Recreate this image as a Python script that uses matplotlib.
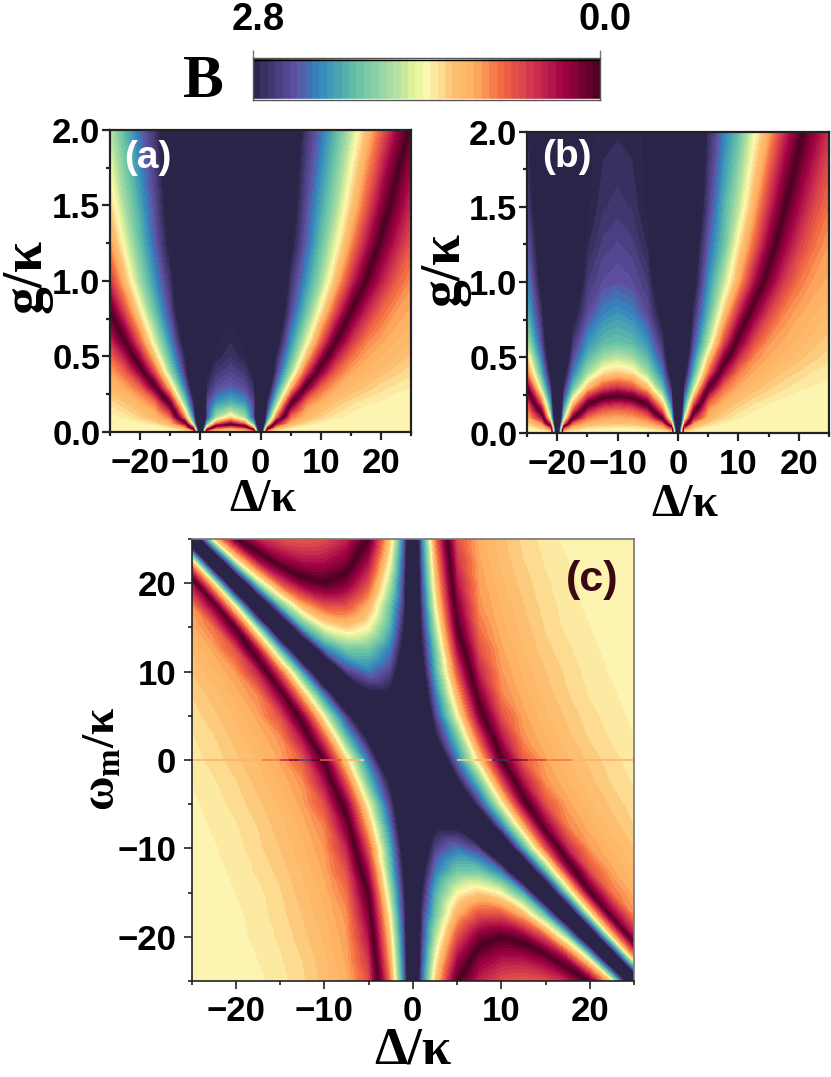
"""Three contour maps of B with a shared colour strip on top."""
import matplotlib
matplotlib.use('Agg')

from matplotlib import pyplot as plt  # noqa
from matplotlib.colors import LinearSegmentedColormap  # noqa
from matplotlib.ticker import MultipleLocator  # noqa
from matplotlib.tri import Triangulation  # noqa
import numpy as np  # noqa

W, H = 831, 1077

# values. B is the size of each number, the sign only
# says on which side of the dark ridge a node lies, so that the contour
# routine can find the ridge between two nodes.
delta_a = [-25, -22.5, -20, -17.5, -15, -12.5, -11, -10, -9, -7.5, -5, -2.5, -1,
           0, 1, 2.5, 5, 7.5, 10, 12.5, 15, 17.5, 20, 22.5, 25]
delta_b = [-25, -22.5, -21, -20, -19, -17.5, -15, -12.5, -10, -7.5, -5, -2.5, -1,
           0, 1, 2.5, 5, 7.5, 10, 12.5, 15, 17.5, 20, 22.5, 25]
g_values = [0, .03, .06, .1, .15, .2, .3, .4, .5, .6, .8, 1, 1.25, 1.5, 2]

field_a = [
    [-1.5, -1.5, -1.5, -1.5, -1.5, -1.5, -1.5, 4, -1.5, -1.5, -1.5, -1.5, -1.5, 4, -1.5, -1.5, -1.5, -1.5, -1.5, -1.5, -1.5, -1.5, -1.5, -1.5, -1.5],
    [-1.5, -1.5, -1.5, -1.45, -1.32, -1.02, .47, 4, .9, -.6, -.92, -.6, .9, 4, .47, -1.02, -1.32, -1.45, -1.5, -1.5, -1.5, -1.5, -1.5, -1.5, -1.5],
    [-1.5, -1.45, -1.38, -1.28, -1.08, -.25, 1.76, 4, 2.0, .8, .18, .8, 2.0, 4, 1.76, -.25, -1.08, -1.28, -1.38, -1.45, -1.5, -1.5, -1.5, -1.5, -1.5],
    [-1.4, -1.35, -1.25, -1.1, -.82, .83, 2.3, 4, 2.5, 1.7, 1.2, 1.7, 2.5, 4, 2.3, .83, -.82, -1.1, -1.25, -1.35, -1.4, -1.46, -1.5, -1.5, -1.5],
    [-1.35, -1.27, -1.15, -1.0, -.4, 1.35, 2.6, 4, 2.5, 1.95, 1.7, 1.95, 2.5, 4, 2.6, 1.35, -.4, -1.0, -1.15, -1.27, -1.35, -1.4, -1.45, -1.5, -1.5],
    [-1.28, -1.19, -1.05, -.82, .1, 1.8, 2.75, 4, 2.55, 2.2, 2.05, 2.2, 2.55, 4, 2.75, 1.8, .1, -.82, -1.05, -1.19, -1.28, -1.35, -1.38, -1.44, -1.47],
    [-1.12, -1.0, -.76, -.08, 1.1, 2.3, 3.1, 4, 2.72, 2.5, 2.4, 2.5, 2.72, 4, 3.1, 2.3, 1.1, -.08, -.76, -1.0, -1.12, -1.2, -1.28, -1.33, -1.36],
    [-1.0, -.76, -.22, .65, 1.7, 2.6, 3.4, 4, 2.85, 2.65, 2.55, 2.65, 2.85, 4, 3.4, 2.6, 1.7, .65, -.22, -.76, -1.0, -1.08, -1.16, -1.23, -1.29],
    [-.82, -.4, .28, 1.15, 2.0, 2.75, 3.5, 4, 3.0, 2.78, 2.68, 2.78, 3.0, 4, 3.5, 2.75, 2.0, 1.15, .28, -.4, -.82, -1.0, -1.07, -1.14, -1.21],
    [-.54, -.03, .72, 1.5, 2.2, 2.95, 3.6, 4, 3.4, 2.82, 2.74, 2.82, 3.4, 4, 3.6, 2.95, 2.2, 1.5, .72, -.03, -.54, -.87, -1.0, -1.07, -1.14],
    [-.02, .62, 1.3, 1.95, 2.5, 3.2, 3.7, 4, 3.8, 3.1, 2.83, 3.1, 3.8, 4, 3.7, 3.2, 2.5, 1.95, 1.3, .62, -.02, -.46, -.78, -.96, -1.03],
    [.5, 1.1, 1.7, 2.2, 2.65, 3.3, 3.8, 4, 3.8, 3.6, 3.5, 3.6, 3.8, 4, 3.8, 3.3, 2.65, 2.2, 1.7, 1.1, .5, -.03, -.43, -.74, -.93],
    [.92, 1.45, 1.95, 2.4, 2.85, 3.5, 3.85, 4, 3.85, 3.7, 3.6, 3.7, 3.85, 4, 3.85, 3.5, 2.85, 2.4, 1.95, 1.45, .92, .4, -.08, -.43, -.72],
    [1.2, 1.7, 2.1, 2.5, 2.95, 3.6, 3.9, 4, 3.9, 3.75, 3.7, 3.75, 3.9, 4, 3.9, 3.6, 2.95, 2.5, 2.1, 1.7, 1.2, .72, .22, -.18, -.5],
    [1.6, 2.0, 2.35, 2.65, 3.1, 3.7, 3.9, 4, 3.95, 3.8, 3.8, 3.8, 3.95, 4, 3.9, 3.7, 3.1, 2.65, 2.35, 2.0, 1.6, 1.15, .74, .3, -.08],
]

field_b = [
    [-1.5, -1.5, -1.5, 4, -1.5, -1.5, -1.5, -1.5, -1.5, -1.5, -1.5, -1.5, -1.5, 4, -1.5, -1.5, -1.5, -1.5, -1.5, -1.5, -1.5, -1.5, -1.5, -1.5, -1.5],
    [-1.44, -1.23, -.74, 4, -.6, -1.14, -1.32, -1.36, -1.38, -1.36, -1.32, -1.14, -.6, 4, -.74, -1.23, -1.44, -1.5, -1.5, -1.5, -1.5, -1.5, -1.5, -1.5, -1.5],
    [-1.26, -.97, .55, 4, .8, -.78, -1.08, -1.18, -1.2, -1.18, -1.08, -.78, .8, 4, .55, -.97, -1.26, -1.38, -1.47, -1.5, -1.5, -1.5, -1.5, -1.5, -1.5],
    [-1.08, -.38, 1.5, 4, 1.7, .05, -.82, -.98, -1.0, -.98, -.82, .05, 1.7, 4, 1.5, -.38, -1.08, -1.26, -1.36, -1.42, -1.48, -1.5, -1.5, -1.5, -1.5],
    [-.97, .18, 1.95, 4, 2.05, .72, -.4, -.75, -.82, -.75, -.4, .72, 2.05, 4, 1.95, .18, -.97, -1.17, -1.29, -1.36, -1.42, -1.47, -1.5, -1.5, -1.5],
    [-.76, .74, 2.2, 4, 2.33, 1.2, .1, -.32, -.43, -.32, .1, 1.2, 2.33, 4, 2.2, .74, -.76, -1.06, -1.2, -1.3, -1.36, -1.4, -1.45, -1.5, -1.5],
    [0, 1.6, 2.6, 4, 2.7, 1.95, 1.1, .65, .5, .65, 1.1, 1.95, 2.7, 4, 2.6, 1.6, 0, -.8, -1.03, -1.15, -1.23, -1.3, -1.35, -1.38, -1.42],
    [.77, 2.05, 2.9, 4, 2.95, 2.3, 1.7, 1.3, 1.2, 1.3, 1.7, 2.3, 2.95, 4, 2.9, 2.05, .77, -.29, -.85, -1.02, -1.12, -1.2, -1.26, -1.32, -1.35],
    [1.2, 2.3, 3.1, 4, 3.2, 2.5, 2.0, 1.7, 1.6, 1.7, 2.0, 2.5, 3.2, 4, 3.1, 2.3, 1.2, .2, -.5, -.9, -1.02, -1.1, -1.17, -1.23, -1.29],
    [1.6, 2.5, 3.2, 4, 3.3, 2.65, 2.2, 2.0, 1.95, 2.0, 2.2, 2.65, 3.3, 4, 3.2, 2.5, 1.6, .65, -.15, -.66, -.94, -1.03, -1.1, -1.17, -1.23],
    [2.0, 2.7, 3.4, 4, 3.5, 2.9, 2.5, 2.28, 2.2, 2.28, 2.5, 2.9, 3.5, 4, 3.4, 2.7, 2.0, 1.2, .47, -.17, -.6, -.88, -1.0, -1.06, -1.12],
    [2.2, 2.9, 3.6, 4, 3.6, 3.1, 2.62, 2.49, 2.45, 2.49, 2.62, 3.1, 3.6, 4, 3.6, 2.9, 2.2, 1.6, 1.0, .35, -.2, -.58, -.84, -.98, -1.03],
    [2.4, 3.0, 3.65, 4, 3.7, 3.2, 2.75, 2.6, 2.55, 2.6, 2.75, 3.2, 3.7, 4, 3.65, 3.0, 2.4, 1.95, 1.3, .77, .2, -.25, -.58, -.82, -.96],
    [2.55, 3.15, 3.7, 4, 3.75, 3.3, 2.82, 2.69, 2.65, 2.69, 2.82, 3.3, 3.75, 4, 3.7, 3.15, 2.55, 2.05, 1.6, 1.05, .5, .02, -.34, -.63, -.84],
    [2.7, 3.3, 3.8, 4, 3.8, 3.45, 2.82, 2.77, 2.75, 2.77, 2.82, 3.45, 3.8, 4, 3.8, 3.3, 2.7, 2.3, 1.95, 1.45, 1.0, .5, .1, -.25, -.54],
]

delta_c = [-25, -22.5, -20, -17.5, -15, -12.5, -10, -7.5, -5, -2.5, -1, 0, 1,
           2.5, 5, 7.5, 10, 12.5, 15, 17.5, 20, 22.5, 25]
omega_c = [-25, -22.5, -20, -17.5, -15, -12.5, -10, -7.5, -5, -2.5, 0,
           2.5, 5, 7.5, 10, 12.5, 15, 17.5, 20, 22.5, 25]

field_c = [
    [-1.5, -1.46, -1.43, -1.39, -1.34, -1.27, -1.17, -1.04, -.68, .83, 2.25, 3.6, 2.35, 1.2, 0, -.47, -.68, -.74, -.68, -.47, 0, 1.2, 3.6],
    [-1.49, -1.45, -1.42, -1.37, -1.32, -1.25, -1.15, -1.0, -.55, 1.03, 2.35, 3.6, 2.45, 1.4, .31, -.2, -.38, -.38, -.2, .31, 1.4, 3.6, 1.03],
    [-1.47, -1.44, -1.4, -1.35, -1.3, -1.22, -1.12, -.97, -.38, 1.2, 2.45, 3.6, 2.55, 1.65, .65, .15, 0, .15, .65, 1.65, 3.6, 1.2, -.38],
    [-1.46, -1.43, -1.39, -1.34, -1.28, -1.19, -1.08, -.93, -.2, 1.4, 2.55, 3.6, 2.6, 1.9, 1.03, .65, .65, 1.03, 1.9, 3.6, 1.4, -.2, -.93],
    [-1.45, -1.42, -1.37, -1.33, -1.26, -1.16, -1.05, -.83, 0, 1.65, 2.65, 3.6, 2.75, 2.05, 1.4, 1.2, 1.4, 2.05, 3.6, 1.65, 0, -.83, -1.05],
    [-1.44, -1.4, -1.35, -1.3, -1.23, -1.13, -1.0, -.68, .31, 1.9, 2.8, 3.6, 2.9, 2.3, 1.9, 1.9, 2.3, 3.6, 1.9, .31, -.68, -1.0, -1.13],
    [-1.42, -1.38, -1.34, -1.27, -1.19, -1.09, -.95, -.47, .65, 2.05, 2.95, 3.6, 3.1, 2.55, 2.3, 2.55, 3.6, 2.05, .65, -.47, -.95, -1.09, -1.19],
    [-1.41, -1.36, -1.32, -1.25, -1.16, -1.05, -.88, -.2, 1.03, 2.3, 3.15, 3.6, 3.3, 2.85, 2.85, 3.6, 2.3, 1.03, -.2, -.88, -1.05, -1.16, -1.25],
    [-1.39, -1.34, -1.29, -1.21, -1.12, -.99, -.68, .15, 1.4, 2.55, 3.4, 3.6, 3.6, 3.4, 3.6, 2.55, 1.4, .15, -.68, -.99, -1.12, -1.21, -1.29],
    [-1.37, -1.32, -1.26, -1.17, -1.07, -.93, -.38, .65, 1.9, 2.85, 3.6, 3.6, 3.6, 3.6, 2.85, 1.9, .65, -.38, -.93, -1.07, -1.17, -1.26, -1.32],
    [-1.34, -1.29, -1.21, -1.13, -1.0, -.74, 0, 1.2, 2.3, 3.4, 3.6, 3.6, 3.6, 3.4, 2.3, 1.2, 0, -.74, -1.0, -1.13, -1.21, -1.29, -1.34],
    [-1.32, -1.26, -1.17, -1.07, -.93, -.38, .65, 1.9, 2.85, 3.6, 3.6, 3.6, 3.6, 2.85, 1.9, .65, -.38, -.93, -1.07, -1.17, -1.26, -1.32, -1.37],
    [-1.29, -1.21, -1.12, -.99, -.68, .15, 1.4, 2.55, 3.6, 3.4, 3.6, 3.6, 3.4, 2.55, 1.4, .15, -.68, -.99, -1.12, -1.21, -1.29, -1.34, -1.39],
    [-1.25, -1.16, -1.05, -.88, -.2, 1.03, 2.3, 3.6, 2.85, 2.85, 3.3, 3.6, 3.15, 2.3, 1.03, -.2, -.88, -1.05, -1.16, -1.25, -1.32, -1.36, -1.41],
    [-1.19, -1.09, -.95, -.47, .65, 2.05, 3.6, 2.55, 2.3, 2.55, 3.1, 3.6, 2.95, 2.05, .65, -.47, -.95, -1.09, -1.19, -1.27, -1.34, -1.38, -1.42],
    [-1.13, -1.0, -.68, .31, 1.9, 3.6, 2.3, 1.9, 1.9, 2.3, 2.9, 3.6, 2.8, 1.9, .31, -.68, -1.0, -1.13, -1.23, -1.3, -1.35, -1.4, -1.44],
    [-1.05, -.83, 0, 1.65, 3.6, 2.05, 1.4, 1.2, 1.4, 2.05, 2.75, 3.6, 2.65, 1.65, 0, -.83, -1.05, -1.16, -1.26, -1.33, -1.37, -1.42, -1.45],
    [-.93, -.2, 1.4, 3.6, 1.9, 1.03, .65, .65, 1.03, 1.9, 2.6, 3.6, 2.55, 1.4, -.2, -.93, -1.08, -1.19, -1.28, -1.34, -1.39, -1.43, -1.46],
    [-.38, 1.2, 3.6, 1.65, .65, .15, 0, .15, .65, 1.65, 2.55, 3.6, 2.45, 1.2, -.38, -.97, -1.12, -1.22, -1.3, -1.35, -1.4, -1.44, -1.47],
    [1.03, 3.6, 1.4, .31, -.2, -.38, -.38, -.2, .31, 1.4, 2.45, 3.6, 2.35, 1.03, -.55, -1.0, -1.15, -1.25, -1.32, -1.37, -1.42, -1.45, -1.49],
    [3.6, 1.2, 0, -.47, -.68, -.74, -.68, -.47, 0, 1.2, 2.35, 3.6, 2.25, .83, -.68, -1.04, -1.17, -1.27, -1.34, -1.39, -1.43, -1.46, -1.5],
]

# the thin stray row at omega_m = 0 in (c)
stray_edges = [-25, -17, -15, -14, -13, -11.5, -10.5, -8, -6, -5.5, 5, 7, 9, 11,
               12, 13, 15, 18, 25]
stray_b = [1.05, .85, .5, .2, 2.6, .05, .7, 1.05, 1.25, np.nan, 1.25, 1.0, 2.7,
           .1, .3, .6, .85, 1.05]

B_MAX = 2.8
B_OUTER = 1.38  # the far side of the ridge never gets past pale yellow
N_BANDS = 47

plt.rcParams['font.family'] = ['Liberation Sans', 'DejaVu Sans']
plt.rcParams['font.weight'] = 'bold'
plt.rcParams['mathtext.fontset'] = 'custom'
plt.rcParams['mathtext.rm'] = 'Liberation Serif:bold'

cmap = LinearSegmentedColormap.from_list('b_map', [
    (0, '#2a2448'), (.117, '#5e4fa2'), (.19, '#3288bd'), (.3, '#66c2a5'),
    (.4, '#abdda4'), (.47, '#e6f598'), (.5, '#fcf8b5'), (.58, '#fdc070'),
    (.64, '#fdae61'), (.71, '#f46d43'), (.82, '#c92c4f'), (.9, '#9e0142'),
    (1, '#4a0020')])


def colour_of(b):
    if b < 0:
        return cmap(1 - min(-b, B_OUTER)/B_MAX)
    return cmap(1 - min(b, B_MAX)/B_MAX)


step = B_MAX/N_BANDS
band_edges = np.arange(-27, N_BANDS + 1)*step
levels = [-10] + list(band_edges) + [10]
band_colours = [colour_of(b) for b in
                [-2] + list((band_edges[:-1] + band_edges[1:])/2) + [B_MAX]]


def add_axes(left, right, top, bottom):
    return plt.gcf().add_axes([left/W, 1 - bottom/H, (right - left)/W,
                               (bottom - top)/H])


def px_text(x, y, text, **kwargs):
    plt.gcf().text(x/W, 1 - y/H, text, ha='center', va='center', **kwargs)


def style_axes(ax, width, xpad, ypad):
    ax.tick_params(which='major', labelsize=25, width=width, length=6,
                   color='#222222')
    ax.tick_params(which='minor', width=width, length=3, color='#222222')
    ax.tick_params(axis='x', which='major', pad=xpad)
    ax.tick_params(axis='y', which='major', pad=ypad)
    for spine in ax.spines.values():
        spine.set_linewidth(width)
        spine.set_color('#222222')


def diagonal_grid(x, y):
    # every cell is cut along x + y = const, the way the narrow band in (c) runs
    nx, ny = len(x), len(y)
    xx, yy = np.meshgrid(x, y)
    triangles = []
    for j in range(ny - 1):
        for i in range(nx - 1):
            a = j*nx + i
            triangles.append([a, a + 1, a + nx])
            triangles.append([a + 1, a + nx + 1, a + nx])
    return Triangulation(xx.ravel(), yy.ravel(), triangles)


fig = plt.figure(figsize=(W/100, H/100), dpi=100)

# colour strip
ax_bar = add_axes(253, 600, 58, 100)
bar_b = np.linspace(B_MAX, 0, N_BANDS + 1)
ax_bar.pcolormesh(bar_b, [0, 1], [(bar_b[:-1] + bar_b[1:])/2], cmap=cmap.reversed(),
                  vmin=0, vmax=B_MAX, rasterized=True)
ax_bar.set_xlim(B_MAX, 0)
ax_bar.set_ylim(0, 1)
ax_bar.set_yticks([])
ax_bar.xaxis.tick_top()
ax_bar.set_xticks([B_MAX, 0], labels=['', ''])
ax_bar.tick_params(length=6, width=1, color='#777777')
for spine in ax_bar.spines.values():
    spine.set_linewidth(1)
    spine.set_color('#555555')
ax_bar.axhline(.95, color='black', lw=1)
ax_bar.axhline(.03, color='white', lw=1)
px_text(258, 20, '2.8', fontsize=27.5)
px_text(605, 20, '0.0', fontsize=27.5)
px_text(203, 82, 'B', fontsize=44, family='Liberation Serif')

# panels (a) and (b)
for box, delta, field, tag, tag_xy, ylab_xy, xlab_xy in [
        ((110, 411, 130, 432), delta_a, field_a, '(a)', (148, 158), (27, 276),
         (263, 500)),
        ((527, 829, 131.5, 432.5), delta_b, field_b, '(b)', (567, 157),
         (445, 269), (685, 505))]:
    ax = add_axes(*box)
    ax.contourf(delta, g_values, field, levels=levels, colors=band_colours)
    ax.set_xlim(-25, 25)
    ax.set_ylim(0, 2)
    ax.xaxis.set_major_locator(MultipleLocator(10))
    ax.xaxis.set_minor_locator(MultipleLocator(5))
    ax.yaxis.set_major_locator(MultipleLocator(.5))
    ax.yaxis.set_minor_locator(MultipleLocator(.25))
    style_axes(ax, 1.6, 5, 1)
    px_text(*tag_xy, tag, fontsize=28, color='white')
    px_text(*ylab_xy, 'g/κ', fontsize=40, rotation=90, family='Liberation Serif')
    px_text(*xlab_xy, 'Δ/κ', fontsize=33, family='Liberation Serif')

# panel (c)
ax = add_axes(191.5, 634, 539, 981)
ax.tricontourf(diagonal_grid(delta_c, omega_c), np.ravel(field_c), levels=levels,
               colors=band_colours)
ax.pcolormesh(stray_edges, [-.07, .07], [stray_b], cmap=cmap.reversed(), vmin=0,
              vmax=B_MAX, alpha=.8, rasterized=True)
ax.set_xlim(-25, 25)
ax.set_ylim(-25, 25)
ax.xaxis.set_major_locator(MultipleLocator(10))
ax.xaxis.set_minor_locator(MultipleLocator(5))
ax.yaxis.set_major_locator(MultipleLocator(10))
ax.yaxis.set_minor_locator(MultipleLocator(5))
style_axes(ax, 1.2, 4, 5)
ax.spines['top'].set_color('#777777')
ax.spines['right'].set_color('#777777')
px_text(592, 580, '(c)', fontsize=31, color='#3a0a14')
px_text(413, 1051, 'Δ/κ', fontsize=38, family='Liberation Serif')
px_text(103, 759, r'$\mathrm{ω_m/κ}$', fontsize=34, rotation=90)

fig.savefig('out.png', dpi=100)
plt.close(fig)
